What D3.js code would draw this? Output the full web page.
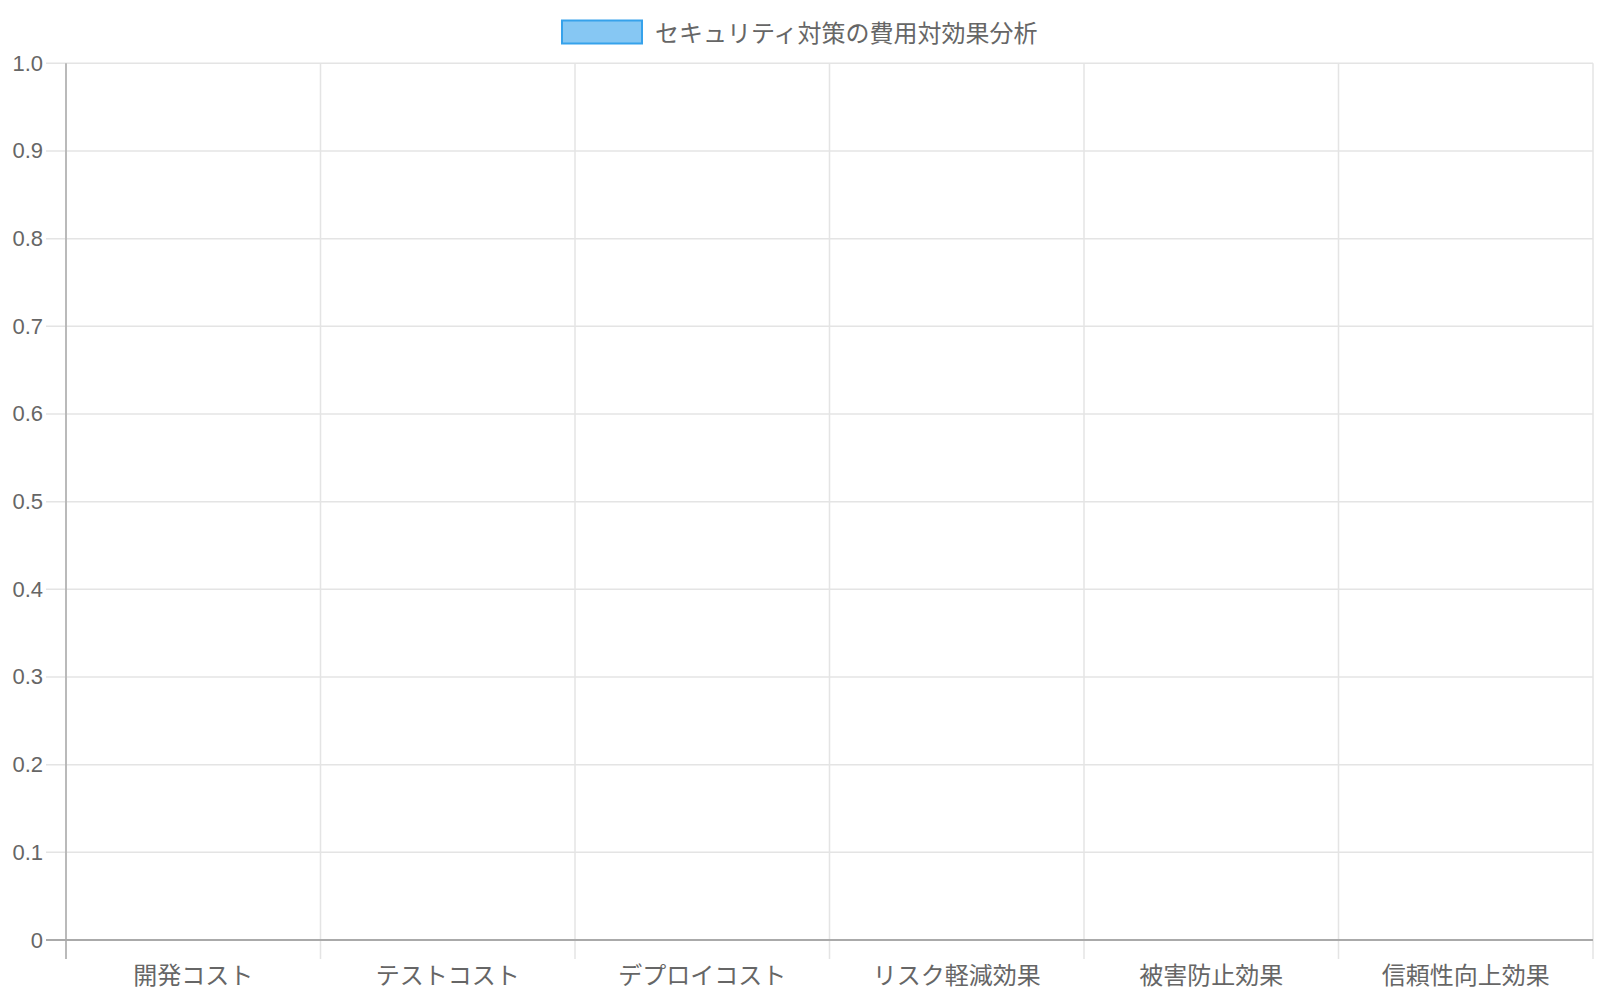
<!DOCTYPE html>
<html>
<head>
<meta charset="utf-8">
<script src="https://cdn.jsdelivr.net/npm/d3@7"></script>
<style>
  body { margin: 0; background: #fff; }
  svg text { font-family: "Liberation Sans", "Noto Sans CJK JP", sans-serif; fill: #666; }
</style>
</head>
<body>
<div id="screen"></div>
<script>
var width = 1600;
var height = 1000;

// data: the chart has no bars, every value is empty
var seriesName = "セキュリティ対策の費用対効果分析";
var categories = ["開発コスト", "テストコスト", "デプロイコスト", "リスク軽減効果", "被害防止効果", "信頼性向上効果"];
var values = [0, 0, 0, 0, 0, 0];
var yTicks = [0, 0.1, 0.2, 0.3, 0.4, 0.5, 0.6, 0.7, 0.8, 0.9, 1.0];

var plotLeft = 66, plotRight = 1593, plotTop = 63.3, plotBottom = 940;

var svg = d3.select("#screen").append("svg")
  .attr("width", width).attr("height", height);

var scaleX = d3.scaleBand().domain(categories).range([plotLeft, plotRight]);
var scaleY = d3.scaleLinear().domain([0, 1]).range([plotBottom, plotTop]);

// horizontal grid + left ticks
svg.selectAll("line.hgrid").data(yTicks).enter().append("line")
  .attr("class", "hgrid")
  .attr("x1", plotLeft - 20).attr("x2", plotRight)
  .attr("y1", function(d){ return scaleY(d); })
  .attr("y2", function(d){ return scaleY(d); })
  .attr("stroke", "#e4e4e4").attr("stroke-width", 1.5);

// vertical grid at band edges, running down past the axis
var edges = categories.map(function(c){ return scaleX(c); }).concat([plotRight]);
svg.selectAll("line.vgrid").data(edges).enter().append("line")
  .attr("class", "vgrid")
  .attr("x1", function(d){ return d; }).attr("x2", function(d){ return d; })
  .attr("y1", plotTop).attr("y2", plotBottom + 19)
  .attr("stroke", "#e4e4e4").attr("stroke-width", 1.5);

// bars (all zero)
svg.selectAll("rect.bar").data(values).enter().append("rect")
  .attr("class", "bar")
  .attr("x", function(d, i){ return scaleX(categories[i]) + scaleX.bandwidth() * 0.1; })
  .attr("width", scaleX.bandwidth() * 0.8)
  .attr("y", function(d){ return scaleY(d); })
  .attr("height", function(d){ return plotBottom - scaleY(d); })
  .attr("fill", "rgba(54,162,235,0.6)");

// axis lines
svg.append("line")
  .attr("x1", plotLeft).attr("x2", plotLeft).attr("y1", plotTop).attr("y2", plotBottom + 19)
  .attr("stroke", "#aaa").attr("stroke-width", 1.5);
svg.append("line")
  .attr("x1", plotLeft - 20).attr("x2", plotRight).attr("y1", plotBottom).attr("y2", plotBottom)
  .attr("stroke", "#aaa").attr("stroke-width", 2);

// y tick labels
svg.selectAll("text.ytick").data(yTicks).enter().append("text")
  .attr("class", "ytick")
  .attr("x", 43)
  .attr("y", function(d){ return scaleY(d); })
  .attr("text-anchor", "end")
  .attr("dominant-baseline", "central")
  .style("font-size", "22px")
  .text(function(d){ return d === 0 ? "0" : d.toFixed(1); });

// x tick labels
svg.selectAll("text.xtick").data(categories).enter().append("text")
  .attr("class", "xtick")
  .attr("x", function(d){ return scaleX(d) + scaleX.bandwidth() / 2; })
  .attr("y", 975)
  .attr("text-anchor", "middle")
  .attr("dominant-baseline", "central")
  .style("font-size", "24px")
  .text(function(d){ return d; });

// legend
svg.append("rect")
  .attr("x", 562).attr("y", 20.5).attr("width", 80).attr("height", 23)
  .attr("fill", "rgba(54,162,235,0.6)")
  .attr("stroke", "#36a2eb").attr("stroke-width", 2);
svg.append("text")
  .attr("x", 655).attr("y", 33)
  .attr("dominant-baseline", "central")
  .style("font-size", "24px")
  .text(seriesName);
</script>
</body>
</html>
